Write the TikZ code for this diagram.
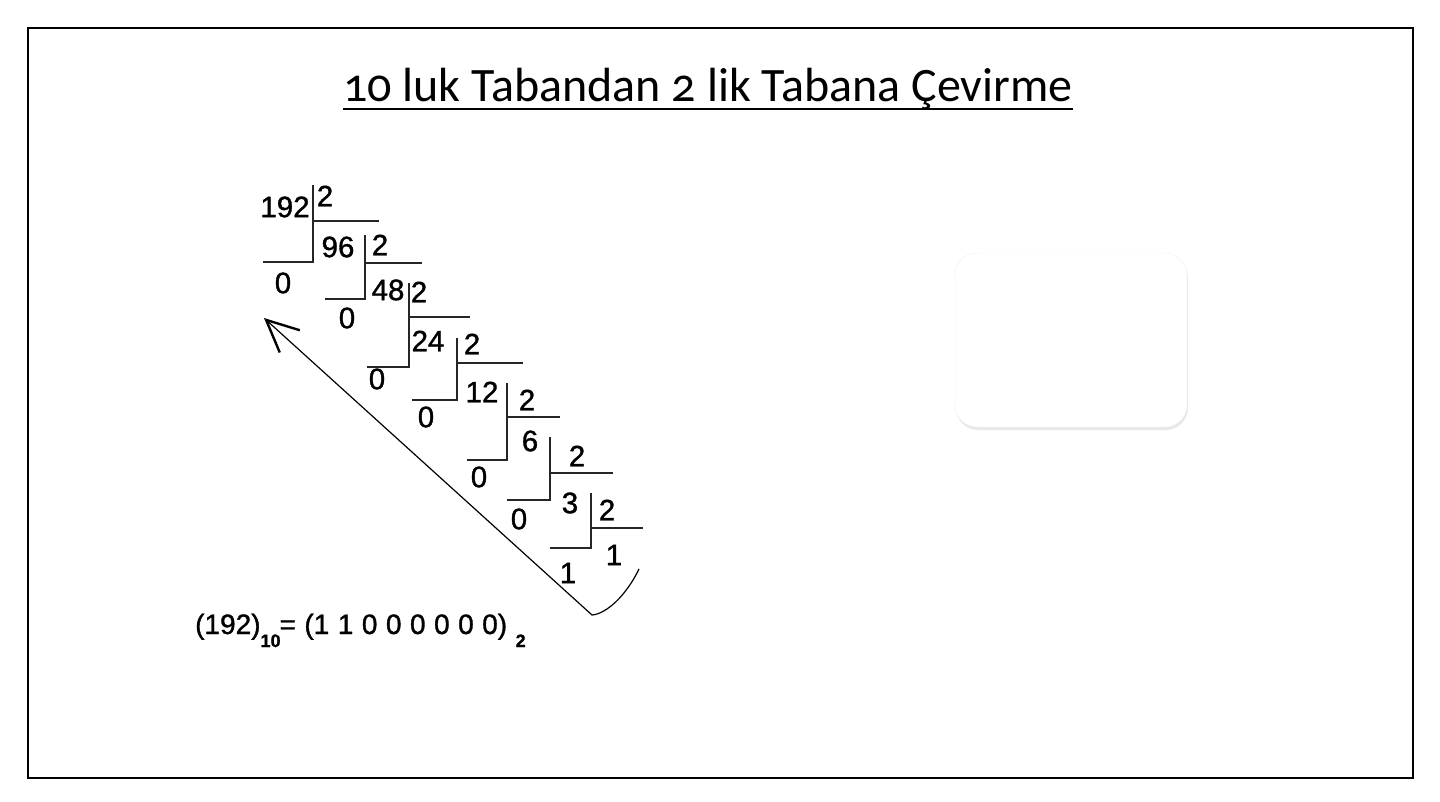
\documentclass[tikz,border=0pt]{standalone}
\usepackage{fontspec}
\setmainfont{Liberation Sans}
\newfontfamily\digitfont[FakeBold=1.2]{Liberation Sans}
\newfontfamily\titlefont[Numbers=OldStyle]{Carlito}
\usetikzlibrary{arrows.meta,shadows}
\newcommand{\lowsub}[1]{\raisebox{-13pt}{\fontsize{18}{18}\selectfont\bfseries #1}}
\tikzset{
  num/.style={inner sep=0pt, font=\digitfont\fontsize{29.5}{31}\selectfont},
  divline/.style={line width=1.6pt, draw=black!85},
  back/.style={-{Straight Barb[length=32pt, width=30pt, line width=2.4pt]}, line width=1.2pt},
  card/.style={fill=white, draw=black!6, rounded corners=22pt,
    drop shadow={shadow xshift=1pt, shadow yshift=-3pt, fill=black!18}},
}

\begin{document}
\begin{tikzpicture}[x=1pt, y=-1pt]
    \useasboundingbox (0,0) rectangle (1440,802);
    \draw[line width=1.4pt] (28,28) rectangle (1413,778);
    % title
    \node[anchor=base, inner sep=0pt, font=\titlefont\fontsize{48}{50}\selectfont] (title) at (708,102)
      {10 luk Tabandan 2 lik Tabana Çevirme};
    \draw[line width=2.8pt] (title.base west) ++(0,7) coordinate (ulw) -- (ulw -| title.base east);
    % empty card
    \node[card, minimum width=232pt, minimum height=174pt] (card) at (1071,340) {};
    % division steps
    \draw[divline] (263,262) -- (313,262) -- (313,185);
    \draw[divline] (313,221) -- (379,221);
    \draw[divline] (325,299) -- (365,299) -- (365,235);
    \draw[divline] (365,263) -- (422,263);
    \draw[divline] (367,367) -- (409,367) -- (409,283);
    \draw[divline] (409,317) -- (470,317);
    \draw[divline] (412,400) -- (457,400) -- (457,338);
    \draw[divline] (457,363) -- (523,363);
    \draw[divline] (467,460) -- (507,460) -- (507,383);
    \draw[divline] (507,417) -- (560,417);
    \draw[divline] (507,500) -- (550,500) -- (550,437);
    \draw[divline] (550,473) -- (613,473);
    \draw[divline] (550,548) -- (591,548) -- (591,493);
    \draw[divline] (591,528) -- (643,528);
    % quotients
    \node[num] (q192) at (285,207) {192};
    \node[num] (q96) at (338,247) {96};
    \node[num] (q48) at (388,290) {48};
    \node[num] (q24) at (428,341) {24};
    \node[num] (q12) at (482,392) {12};
    \node[num] (q6) at (530,441) {6};
    \node[num] (q3) at (570,503) {3};
    \node[num] (q1) at (614,555) {1};
    % divisors
    \node[num] (d1) at (325,196) {2};
    \node[num] (d2) at (380,245) {2};
    \node[num] (d3) at (419,292) {2};
    \node[num] (d4) at (472,344) {2};
    \node[num] (d5) at (527,400) {2};
    \node[num] (d6) at (577,456) {2};
    \node[num] (d7) at (607,510) {2};
    % remainders
    \node[num] (r1) at (283,283) {0};
    \node[num] (r2) at (347,318) {0};
    \node[num] (r3) at (377,379) {0};
    \node[num] (r4) at (426,417) {0};
    \node[num] (r5) at (479,477) {0};
    \node[num] (r6) at (519,519) {0};
    \node[num] (r7) at (568,573) {1};
    % read-back arrow
    \coordinate (hook) at (639,569);
    \coordinate (bend) at (592,615);
    \coordinate (tip) at (264,318);
    \draw[back] (hook) .. controls (626,596) and (606,614) .. (bend) -- (tip);
    % result
    \node[anchor=base west, inner sep=0pt, font=\digitfont\fontsize{28}{30}\selectfont, text depth=0pt] (result) at (195,634)
      {\spaceskip=8.5pt (192)\lowsub{10}\hspace{-1pt}= (1 1 0 0 0 0 0 0) \lowsub{2}};
\end{tikzpicture}
\end{document}
